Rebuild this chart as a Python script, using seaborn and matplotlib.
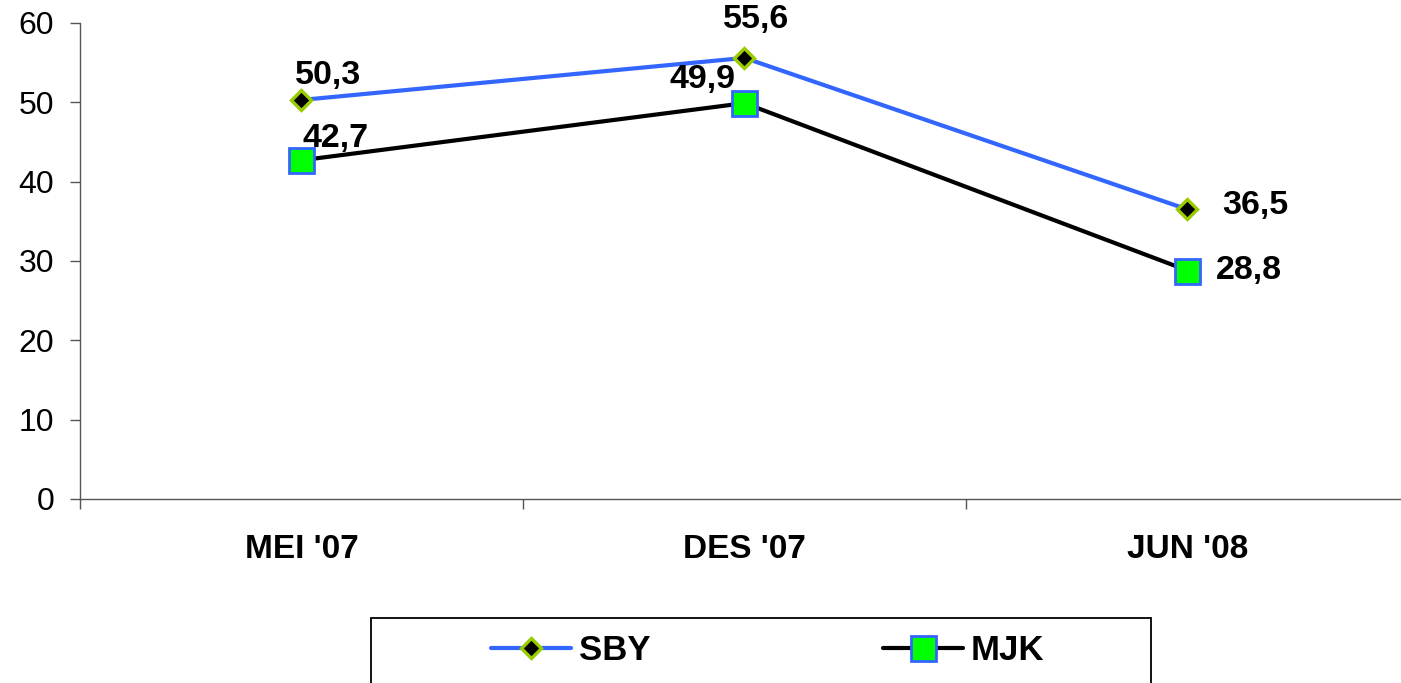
import numpy as np
import pandas as pd
import matplotlib
matplotlib.use("Agg")
import matplotlib.pyplot as plt
import seaborn as sns
from matplotlib.patches import Rectangle

sns.set_style("white")
plt.rcParams['font.family'] = ['Liberation Sans', 'DejaVu Sans']
plt.rcParams['text.color'] = 'black'
plt.rcParams['xtick.color'] = 'black'
plt.rcParams['ytick.color'] = 'black'

# data
periods = ["MEI '07", "DES '07", "JUN '08"]
sby = [50.3, 55.6, 36.5]
mjk = [42.7, 49.9, 28.8]
sby_labels = ["50,3", "55,6", "36,5"]
mjk_labels = ["42,7", "49,9", "28,8"]

df = pd.DataFrame({"pos": np.arange(len(periods)), "SBY": sby, "MJK": mjk})

fig = plt.figure(figsize=(14.01, 6.83), dpi=100)
ax = fig.add_axes([80 / 1401, 1 - 499 / 683, (1409 - 80) / 1401, (499 - 23) / 683])

sns.lineplot(data=df, x="pos", y="SBY", ax=ax, color="#3366FF", lw=3,
             marker="D", markersize=10, markerfacecolor="black",
             markeredgecolor="#99CC00", markeredgewidth=2.4, label="SBY")
sns.lineplot(data=df, x="pos", y="MJK", ax=ax, color="black", lw=3,
             marker="s", markersize=18, markerfacecolor="#00FF00",
             markeredgecolor="#3366FF", markeredgewidth=2, label="MJK")

# value labels (offsets in pixels)
sby_off = [(27, 24), (12, 38), (68, 4)]
mjk_off = [(34, 22), (-42, 24), (61, 0)]
for i in range(len(periods)):
    ax.annotate(sby_labels[i], (i, sby[i]), xytext=sby_off[i], textcoords="offset pixels",
                ha="center", va="center", fontsize=24.5, fontweight="bold", annotation_clip=False)
    ax.annotate(mjk_labels[i], (i, mjk[i]), xytext=mjk_off[i], textcoords="offset pixels",
                ha="center", va="center", fontsize=24.5, fontweight="bold", annotation_clip=False)

ax.set_xlim(-0.5, 2.5)
ax.set_ylim(0, 60)
ax.set_yticks(range(0, 61, 10))
ax.tick_params(axis="y", direction="out", length=7.5, width=1, color="#555555",
               labelsize=23, pad=11, left=True)
ax.set_xticks(np.arange(len(periods)))
ax.set_xticklabels(periods, fontsize=24, fontweight="bold")
ax.set_xticks([-0.5, 0.5, 1.5, 2.5], minor=True)
ax.tick_params(axis="x", which="major", length=0, pad=25)
ax.tick_params(axis="x", which="minor", direction="out", length=7.5, width=1,
               color="#555555", bottom=True)
ax.set_xlabel("")
ax.set_ylabel("")
sns.despine(ax=ax, top=True, right=True)
for s in ["left", "bottom"]:
    ax.spines[s].set_color("#555555")
    ax.spines[s].set_linewidth(1)

handles, labels = ax.get_legend_handles_labels()
if ax.get_legend() is not None:
    ax.get_legend().remove()

fig.patches.append(Rectangle((371 / 1401, -0.1), (1151 - 371) / 1401, (683 - 618) / 683 + 0.1,
                             transform=fig.transFigure, fill=False, edgecolor="black", lw=1.3))
leg = fig.legend(handles, labels, loc="center left", bbox_to_anchor=(491 / 1401, 1 - 651 / 683),
                 ncol=2, frameon=False, borderpad=0, borderaxespad=0,
                 handlelength=2.3, handletextpad=0.23, columnspacing=6.7,
                 prop={"size": 25, "weight": "bold"})

fig.savefig("out.png", dpi=100)
